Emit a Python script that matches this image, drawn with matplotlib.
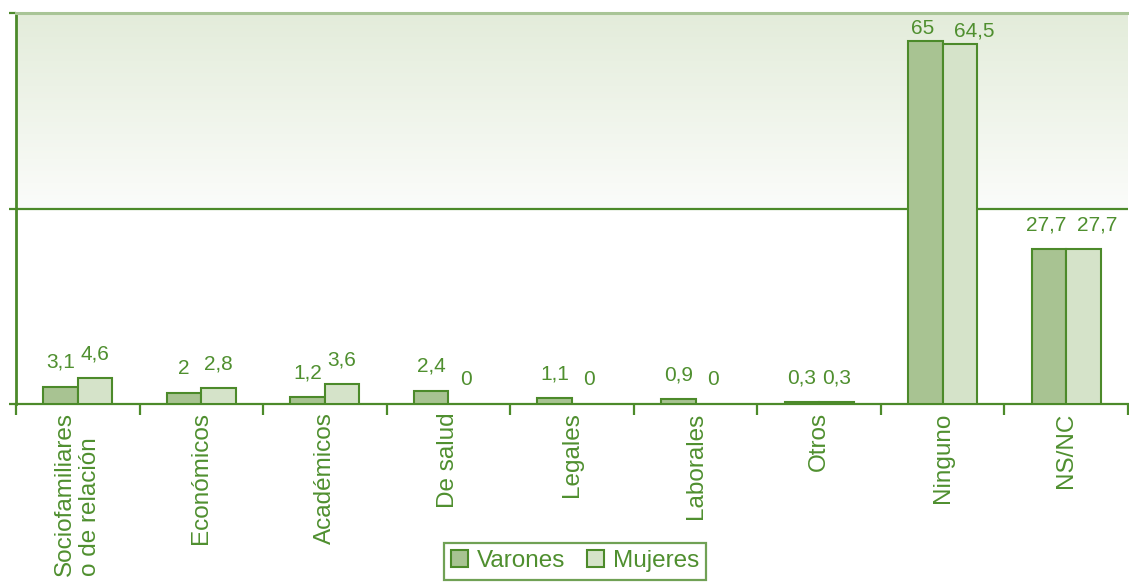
import matplotlib
matplotlib.use("Agg")
import matplotlib.pyplot as plt
import numpy as np
from matplotlib.patches import Patch
from matplotlib.colors import LinearSegmentedColormap

categories = ["Sociofamiliares\no de relación", "Económicos", "Académicos", "De salud",
              "Legales", "Laborales", "Otros", "Ninguno", "NS/NC"]
varones = [3.1, 2, 1.2, 2.4, 1.1, 0.9, 0.3, 65, 27.7]
mujeres = [4.6, 2.8, 3.6, 0, 0, 0, 0.3, 64.5, 27.7]
series_names = ["Varones", "Mujeres"]

dark = "#4c8a2a"
text_c = "#4f8f2f"
fill_v = "#a8c392"
fill_m = "#d5e3c9"
top_line = "#a9c597"

plt.rcParams['font.family'] = ['Liberation Sans', 'DejaVu Sans']

fig = plt.figure(figsize=(11.29, 5.85), dpi=100)
ax = fig.add_axes([16/1129, 1-404/585, 1112/1129, 391/585])

n = len(categories)
x = np.arange(n)
w = 0.28
ax.set_xlim(-0.5, n-0.5)
ax.set_ylim(0, 70)

# gradient in the upper band
grad = np.linspace(0, 1, 256).reshape(-1, 1)
cmap = LinearSegmentedColormap.from_list("g", ["#fbfcfa", "#e3ecda"])
ax.imshow(grad, aspect='auto', cmap=cmap, origin='lower',
          extent=(-0.5, n-0.5, 35, 70), zorder=0)

ax.axhline(35, color=dark, lw=1.6, zorder=1)

bv = ax.bar(x - w/2, varones, w, color=fill_v, edgecolor=dark, linewidth=1.5, zorder=3)
bm = ax.bar(x + w/2, mujeres, w, color=fill_m, edgecolor=dark, linewidth=1.5, zorder=3)
for rect, v in list(zip(bm, mujeres)):
    if v == 0:
        rect.set_visible(False)

def fmt(v):
    return ("%g" % v).replace(".", ",")

lab_v, lab_m = [], []
for xs, vals, store in ((x - w/2, varones, lab_v), (x + w/2, mujeres, lab_m)):
    for xi, v in zip(xs, vals):
        off = 5 if v > 60 else 13.5
        t = ax.annotate(fmt(v), (xi, v), xytext=(0, off), textcoords='offset points',
                        ha='center', va='baseline', fontsize=15, color=text_c, zorder=4)
        store.append((t, xi, v, off))

# push apart pairs of labels that would touch
fig.canvas.draw()
r = fig.canvas.get_renderer()
for (tv, xv, vv, ov), (tm, xm, vm, om) in zip(lab_v, lab_m):
    ev = tv.get_window_extent(r)
    em = tm.get_window_extent(r)
    gap = em.x0 - ev.x1
    if gap < 4:
        tv.set_position((-2.2, ov))
        tm.set_position((10, om))

ax.spines['right'].set_visible(False)
ax.spines['left'].set_color(dark)
ax.spines['left'].set_linewidth(2)
ax.spines['bottom'].set_color(dark)
ax.spines['bottom'].set_linewidth(1.6)
ax.spines['top'].set_color(top_line)
ax.spines['top'].set_linewidth(2.2)

ax.set_yticks([0, 35, 70])
ax.set_yticklabels([])
ax.tick_params(axis='y', direction='out', length=5, width=1.6, color=dark)

ax.set_xticks(np.arange(n+1) - 0.5)
ax.set_xticklabels([])
ax.tick_params(axis='x', which='major', direction='out', length=8, width=1.6, color=dark)
ax.set_xticks(x, minor=True)
ax.set_xticklabels(categories, minor=True, rotation=90, fontsize=17.5, color=text_c,
                   ha='center', va='top', multialignment='left')
ax.tick_params(axis='x', which='minor', length=0, pad=6)

handles = [Patch(facecolor=fill_v, edgecolor=dark, linewidth=1.5),
           Patch(facecolor=fill_m, edgecolor=dark, linewidth=1.5)]
leg = fig.legend(handles, series_names, loc='upper center',
                 bbox_to_anchor=(575/1129, 1-543/585), ncol=2, fontsize=17.5,
                 frameon=True, fancybox=False, handlelength=0.7, handleheight=0.7,
                 handletextpad=0.35, columnspacing=0.9, borderpad=0.3,
                 borderaxespad=0, labelcolor=text_c)
leg.get_frame().set_edgecolor(dark)
leg.get_frame().set_linewidth(1.6)

fig.savefig("out.png", dpi=100)
